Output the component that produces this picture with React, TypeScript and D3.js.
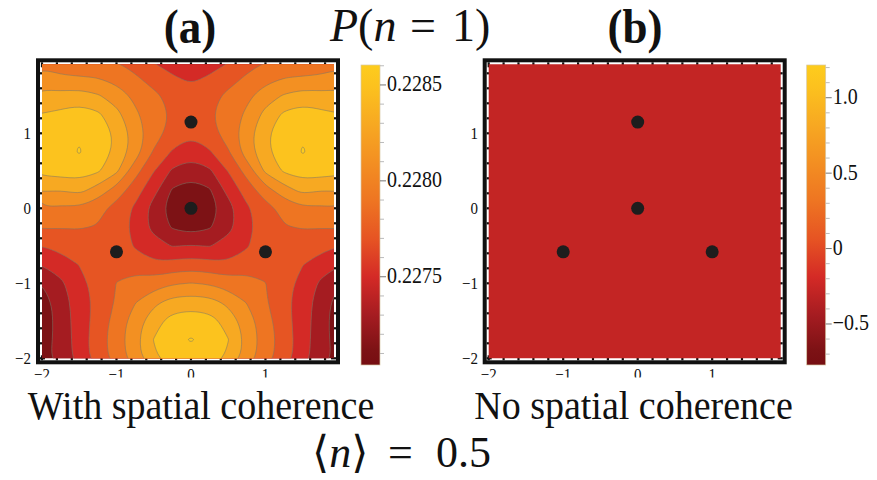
import { useEffect, useRef } from 'react'
import * as d3 from 'd3'

// sample grid of panel (a), x left -> right, y top -> bottom
const gridX = [-2, -1.75, -1.5, -1.25, -1, -0.75, -0.5, -0.25, 0, 0.25, 0.5, 0.75, 1, 1.25, 1.5, 1.75, 2]
const gridY = [2, 1.75, 1.5, 1.25, 1, 0.75, 0.5, 0.25, 0, -0.25, -0.5, -0.75, -1, -1.25, -1.5, -1.75, -2]

// P(n=1) with spatial coherence, in units of 1e-4
const pRows = [
  [2279.0, 2278.7, 2278.3, 2277.9, 2277.8, 2277.0, 2275.6, 2274.8, 2273.9, 2274.8, 2275.6, 2277.0, 2277.8, 2277.9, 2278.3, 2278.7, 2279.0],
  [2280.8, 2280.2, 2280.1, 2279.9, 2279.2, 2278.2, 2277.2, 2276.2, 2275.5, 2276.2, 2277.2, 2278.2, 2279.2, 2279.9, 2280.1, 2280.2, 2280.8],
  [2282.6, 2282.6, 2282.9, 2282.2, 2281.1, 2279.5, 2278.4, 2277.4, 2276.9, 2277.4, 2278.4, 2279.5, 2281.1, 2282.2, 2282.9, 2282.6, 2282.6],
  [2284.1, 2284.5, 2285.0, 2284.4, 2282.6, 2280.4, 2278.8, 2277.8, 2277.5, 2277.8, 2278.8, 2280.4, 2282.6, 2284.4, 2285.0, 2284.5, 2284.1],
  [2284.9, 2285.5, 2285.85, 2285.4, 2283.6, 2281.2, 2278.8, 2277.3, 2276.3, 2277.3, 2278.8, 2281.2, 2283.6, 2285.4, 2285.85, 2285.5, 2284.9],
  [2284.9, 2285.5, 2286.1, 2285.3, 2283.5, 2281.0, 2277.8, 2275.8, 2274.7, 2275.8, 2277.8, 2281.0, 2283.5, 2285.3, 2286.1, 2285.5, 2284.9],
  [2284.6, 2284.9, 2285.0, 2284.3, 2282.4, 2278.8, 2276.1, 2273.7, 2273.0, 2273.7, 2276.1, 2278.8, 2282.4, 2284.3, 2285.0, 2284.9, 2284.6],
  [2282.3, 2282.1, 2282.7, 2281.2, 2279.3, 2276.9, 2274.7, 2271.85, 2270.9, 2271.85, 2274.7, 2276.9, 2279.3, 2281.2, 2282.7, 2282.1, 2282.3],
  [2279.9, 2279.6, 2279.7, 2278.7, 2277.2, 2275.7, 2273.2, 2270.9, 2270.4, 2270.9, 2273.2, 2275.7, 2277.2, 2278.7, 2279.7, 2279.6, 2279.9],
  [2278.2, 2278.1, 2278.1, 2277.9, 2277.0, 2275.4, 2273.4, 2271.8, 2271.0, 2271.8, 2273.4, 2275.4, 2277.0, 2277.9, 2278.1, 2278.1, 2278.2],
  [2276.05, 2276.6, 2277.3, 2277.6, 2277.2, 2275.8, 2274.8, 2273.9, 2274.1, 2273.9, 2274.8, 2275.8, 2277.2, 2277.6, 2277.3, 2276.6, 2276.05],
  [2274.05, 2275.0, 2276.05, 2277.0, 2277.5, 2277.0, 2276.3, 2276.7, 2277.0, 2276.7, 2276.3, 2277.0, 2277.5, 2277.0, 2276.05, 2275.0, 2274.05],
  [2272.05, 2273.6, 2275.4, 2276.7, 2278.05, 2278.9, 2279.1, 2279.8, 2280.05, 2279.8, 2279.1, 2278.9, 2278.05, 2276.7, 2275.4, 2273.6, 2272.05],
  [2271.0, 2273.0, 2275.0, 2276.6, 2278.2, 2279.9, 2281.5, 2282.7, 2283.0, 2282.7, 2281.5, 2279.9, 2278.2, 2276.6, 2275.0, 2273.0, 2271.0],
  [2270.7, 2272.9, 2274.9, 2276.8, 2278.8, 2281.0, 2283.2, 2284.8, 2285.2, 2284.8, 2283.2, 2281.0, 2278.8, 2276.8, 2274.9, 2272.9, 2270.7],
  [2271.1, 2272.7, 2274.9, 2277.1, 2279.0, 2281.4, 2284.05, 2285.6, 2286.1, 2285.6, 2284.05, 2281.4, 2279.0, 2277.1, 2274.9, 2272.7, 2271.1],
  [2271.4, 2272.7, 2274.8, 2277.0, 2278.8, 2281.1, 2283.7, 2284.9, 2285.4, 2284.9, 2283.7, 2281.1, 2278.8, 2277.0, 2274.8, 2272.7, 2271.4],
]
const levels = [2272, 2274, 2276, 2278, 2280, 2282, 2284, 2286]

// emitters (black dots)
const emitX = [0, -1, 1, 0]
const emitY = [1.15, -0.58, -0.58, 0]

// panel (b) is a flat field, value on its own colour bar
const noCohValue = -0.28

const axisMajor = [-2, -1, 0, 1]
const axisMinor = [-1.8, -1.6, -1.4, -1.2, -0.8, -0.6, -0.4, -0.2, 0.2, 0.4, 0.6, 0.8, 1.2, 1.4, 1.6, 1.8]

const cbADomain = [2270.4, 2286.04]
const cbAMajor = [2275, 2280, 2285]
const cbAMinor = [2271, 2272, 2273, 2274, 2276, 2277, 2278, 2279, 2281, 2282, 2283, 2284, 2286]
const cbBDomain = [-0.772, 1.217]
const cbBMajor = [-0.5, 0, 0.5, 1]
const cbBMinor = [-0.7, -0.6, -0.4, -0.3, -0.2, -0.1, 0.1, 0.2, 0.3, 0.4, 0.6, 0.7, 0.8, 0.9, 1.1, 1.2]

// colour map (dark red -> yellow)
const cmapT = [0, 0.05, 0.166, 0.293, 0.42, 0.548, 0.675, 0.8, 0.93, 1]
const cmapC = ['#760e12', '#7d1215', '#a51c21', '#d42a26', '#e65423', '#ee7522', '#f38f22', '#f7a822', '#fcc21e', '#fdcc1d']

const SERIF = '"Liberation Serif", "DejaVu Serif", "Times New Roman", serif'

export default function App() {
  const svgRef = useRef<SVGSVGElement>(null)

  useEffect(() => {
    if (!svgRef.current) return
    const svg = d3.select(svgRef.current)
    svg.selectAll('*').remove()

    const plotW = 292, plotTop = 64.3, plotBot = 358.3
    const y = d3.scaleLinear().domain([-2, 1.92]).range([plotBot, plotTop])
    const cmap = d3.scaleLinear<string>().domain(cmapT).range(cmapC).clamp(true)
    const tA = d3.scaleLinear().domain(cbADomain).range([0, 1])
    const tB = d3.scaleLinear().domain(cbBDomain).range([0, 1])

    const defs = svg.append('defs')
    const grad = defs.append('linearGradient').attr('id', 'cmapGrad')
      .attr('x1', 0).attr('y1', 1).attr('x2', 0).attr('y2', 0)
    cmapT.forEach((t, i) => grad.append('stop').attr('offset', t).attr('stop-color', cmapC[i]))
    defs.append('clipPath').attr('id', 'xtClip').append('rect')
      .attr('x', 0).attr('y', 360).attr('width', 877).attr('height', 17.5)

    const text = (g: any, x: number, yy: number, str: string, size: number, sy: number, anchor: string, weight = 'normal') =>
      g.append('text').attr('transform', `translate(${x},${yy}) scale(1,${sy})`)
        .attr('text-anchor', anchor).attr('font-family', SERIF).attr('font-size', size)
        .attr('font-weight', weight).attr('fill', '#111').text(str)

    const fmt = (v: number) => (v < 0 ? '\u2212' : '') + Math.abs(v)

    const drawPanel = (x0: number, id: string, labelRight: number) => {
      const x = d3.scaleLinear().domain([-2, 1.92]).range([x0, x0 + plotW])
      defs.append('clipPath').attr('id', id).append('rect')
        .attr('x', x0).attr('y', plotTop).attr('width', plotW).attr('height', plotBot - plotTop)

      // frame ticks
      const tg = svg.append('g').attr('stroke', '#111').attr('stroke-width', 2.2)
      const L = x0 - 2, R = x0 + plotW + 2, T = plotTop - 2, B = plotBot + 2
      ;[...axisMinor.map(v => [v, 3]), ...axisMajor.map(v => [v, 5])].forEach(([v, len]) => {
        tg.append('line').attr('x1', L).attr('x2', L + len).attr('y1', y(v)).attr('y2', y(v))
        tg.append('line').attr('x1', R).attr('x2', R - len).attr('y1', y(v)).attr('y2', y(v))
        tg.append('line').attr('y1', B).attr('y2', B - len).attr('x1', x(v)).attr('x2', x(v))
        tg.append('line').attr('y1', T).attr('y2', T + len).attr('x1', x(v)).attr('x2', x(v))
      })
      svg.append('rect').attr('x', x0 - 4).attr('y', plotTop - 4)
        .attr('width', plotW + 8).attr('height', plotBot - plotTop + 8)
        .attr('fill', 'none').attr('stroke', '#111').attr('stroke-width', 4)

      // tick labels (x labels half hidden behind the caption, as in the source)
      axisMajor.forEach(v => {
        text(svg, labelRight, y(v) + 5.5, fmt(v), 15, 1.15, 'end')
        text(svg.append('g').attr('clip-path', 'url(#xtClip)'), x(v), 379.5, fmt(v), 15, 1.15, 'middle')
      })
      return { x, g: svg.append('g').attr('clip-path', `url(#${id})`) }
    }

    // ---------- panel (a)
    const a = drawPanel(42, 'clipA', 31)
    const nx = gridX.length, ny = gridY.length
    const cx = d3.scaleLinear().domain([0.5, nx - 0.5]).range([gridX[0], gridX[nx - 1]])
    const cy = d3.scaleLinear().domain([0.5, ny - 0.5]).range([gridY[0], gridY[ny - 1]])
    const contours = d3.contours().size([nx, ny]).thresholds(levels)(pRows.flat())
    const line = d3.line().curve(d3.curveBasisClosed)
    const pathOf = (c: any) => c.coordinates.map((poly: any) => poly.map((ring: any) =>
      line(ring.slice(0, -1).map(([c0, r0]: number[]) => [a.x(cx(c0)), y(cy(r0))] as [number, number]))
    ).join('')).join('')

    const lo = d3.min(pRows.flat())!, hi = d3.max(pRows.flat())!
    a.g.append('rect').attr('x', 30).attr('y', 50).attr('width', 320).attr('height', 320)
      .attr('fill', cmap(tA((lo + levels[0]) / 2)))
    const paths = contours.map(pathOf)
    contours.forEach((c, i) => {
      const top = i + 1 < levels.length ? levels[i + 1] : hi
      a.g.append('path').attr('d', paths[i]).attr('fill-rule', 'evenodd')
        .attr('fill', cmap(tA((c.value + top) / 2)))
    })
    contours.forEach((c, i) => {
      a.g.append('path').attr('d', paths[i]).attr('fill', 'none')
        .attr('stroke', 'rgba(125,120,105,0.6)').attr('stroke-width', 0.9)
    })
    emitX.forEach((ex, i) => a.g.append('circle').attr('cx', a.x(ex)).attr('cy', y(emitY[i]))
      .attr('r', 6.5).attr('fill', '#1d1d1d'))

    // ---------- panel (b)
    const b = drawPanel(488.7, 'clipB', 478)
    b.g.append('rect').attr('x', 470).attr('y', 50).attr('width', 330).attr('height', 320)
      .attr('fill', cmap(tB(noCohValue)))
    emitX.forEach((ex, i) => b.g.append('circle').attr('cx', b.x(ex)).attr('cy', y(emitY[i]))
      .attr('r', 6.5).attr('fill', '#1d1d1d'))

    // ---------- colour bars
    const bar = (bx: number, domain: number[], major: number[], minor: number[], label: (v: number) => string) => {
      const s = d3.scaleLinear().domain(domain).range([365, 65])
      svg.append('rect').attr('x', bx).attr('y', 65).attr('width', 19).attr('height', 300)
        .attr('fill', 'url(#cmapGrad)').attr('stroke', '#d8c8a6').attr('stroke-width', 0.7)
      minor.forEach(v => svg.append('line').attr('x1', bx + 19).attr('x2', bx + 23)
        .attr('y1', s(v)).attr('y2', s(v)).attr('stroke', '#aaa').attr('stroke-width', 0.8))
      major.forEach(v => {
        svg.append('line').attr('x1', bx + 19).attr('x2', bx + 25)
          .attr('y1', s(v)).attr('y2', s(v)).attr('stroke', '#666').attr('stroke-width', 0.9)
        text(svg, bx + 26, s(v) + 6.5, label(v), 20, 1.12, 'start')
      })
    }
    bar(361, cbADomain, cbAMajor, cbAMinor, v => (v / 1e4).toFixed(4))
    bar(806.7, cbBDomain, cbBMajor, cbBMinor, v => v === 0 ? '0' : (v < 0 ? '\u2212' : '') + Math.abs(v).toFixed(1))

    // ---------- titles and captions
    text(svg, 190, 43, '(a)', 45, 1.08, 'middle', 'bold')
    text(svg, 635, 43, '(b)', 45, 1.08, 'middle', 'bold')
    const pt = svg.append('text').attr('transform', 'translate(330,41)')
      .attr('font-family', SERIF).attr('font-size', 46).attr('fill', '#111')
    pt.append('tspan').attr('font-style', 'italic').text('P')
    pt.append('tspan').text('(')
    pt.append('tspan').attr('font-style', 'italic').text('n')
    pt.append('tspan').attr('x', 80).text('=')
    pt.append('tspan').attr('x', 122).text('1)')
    text(svg, 201, 419, 'With spatial coherence', 38, 1.08, 'middle')
    text(svg, 633.5, 419, 'No spatial coherence', 38, 1.08, 'middle')
    const nt = svg.append('text').attr('transform', 'translate(312,467)')
      .attr('font-family', SERIF).attr('font-size', 44).attr('fill', '#111')
    nt.append('tspan').text('\u27e8')
    nt.append('tspan').attr('font-style', 'italic').text('n')
    nt.append('tspan').text('\u27e9')
    nt.append('tspan').attr('x', 76).text('=')
    nt.append('tspan').attr('x', 124).text('0.5')
  }, [])

  return <svg ref={svgRef} width={877} height={480}
    style={{ position: 'absolute', left: 0, top: 0, background: '#fff' }} />
}
